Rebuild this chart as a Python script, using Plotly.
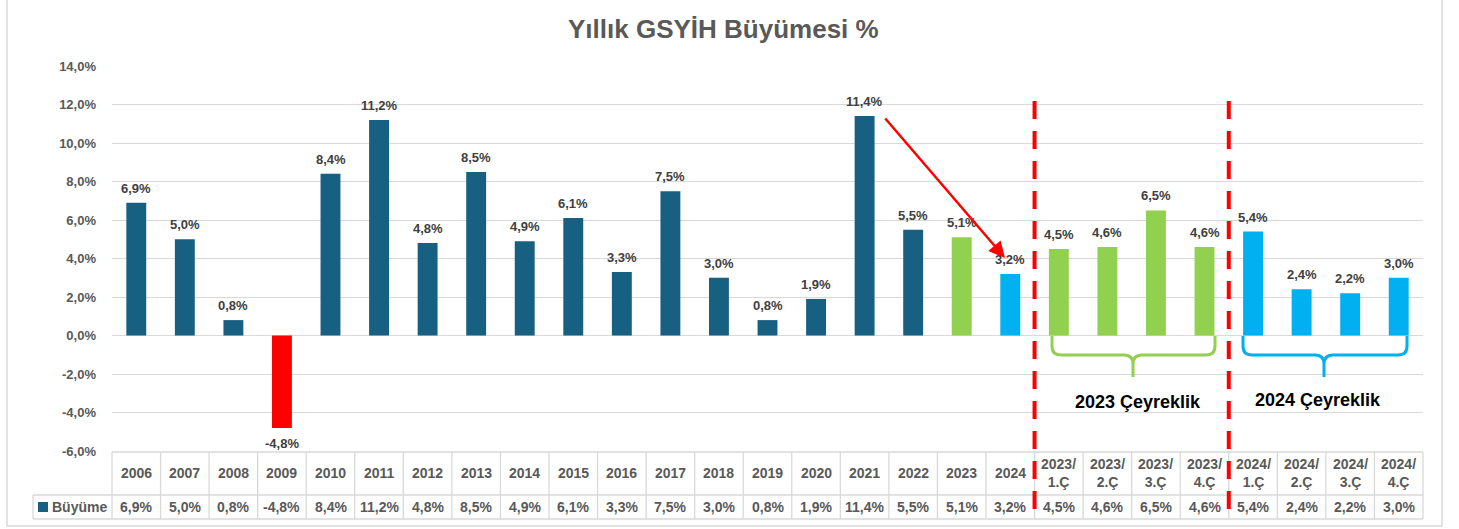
import plotly.graph_objects as go

categories = ["2006", "2007", "2008", "2009", "2010", "2011", "2012", "2013", "2014",
              "2015", "2016", "2017", "2018", "2019", "2020", "2021", "2022", "2023", "2024",
              "2023/<br>1.Ç", "2023/<br>2.Ç", "2023/<br>3.Ç", "2023/<br>4.Ç",
              "2024/<br>1.Ç", "2024/<br>2.Ç", "2024/<br>3.Ç", "2024/<br>4.Ç"]
growth = [6.9, 5.0, 0.8, -4.8, 8.4, 11.2, 4.8, 8.5, 4.9, 6.1, 3.3, 7.5, 3.0, 0.8, 1.9,
          11.4, 5.5, 5.1, 3.2, 4.5, 4.6, 6.5, 4.6, 5.4, 2.4, 2.2, 3.0]
bar_colors = (["#176082"] * 3 + ["#FF0000"] + ["#176082"] * 13 + ["#92D050", "#00B0F0"]
              + ["#92D050"] * 4 + ["#00B0F0"] * 4)
ytick_vals = [-6, -4, -2, 0, 2, 4, 6, 8, 10, 12, 14]
series_name = "Büyüme"
title_text = "Yıllık GSYİH Büyümesi %"

W_FIG, H_FIG = 1459, 529
L, R, T, B = 112, 1423, 66, 451
PW, PH = R - L, B - T


def px(x):
    return (x - L) / PW


def py(y):
    return (B - y) / PH


def fmt(v):
    return f"{v:.1f}%".replace(".", ",")


n = len(categories)
xs = list(range(n))
FONT = "Liberation Sans, Arial, sans-serif"
GRAY = "#595959"
LBL = "#404040"
GRID = "#d9d9d9"

fig = go.Figure()
fig.add_trace(go.Bar(
    x=xs, y=growth, marker=dict(color=bar_colors, line=dict(width=0)),
    width=0.41, showlegend=False, hoverinfo="y"))

annotations = []
# data labels
for i, v in enumerate(growth):
    annotations.append(dict(
        x=i, y=v, xref="x", yref="y", text=f"<b>{fmt(v)}</b>", showarrow=False,
        xanchor="center",
        yanchor="bottom" if v >= 0 else "top", yshift=5 if v >= 0 else -6,
        font=dict(family=FONT, size=13, color=LBL)))


def ptext(xp, yp, text, size, color, xanchor="center"):
    return dict(x=px(xp), y=py(yp), xref="paper", yref="paper", text=text,
                showarrow=False, xanchor=xanchor, yanchor="middle", align="center",
                font=dict(family=FONT, size=size, color=color))


shapes = []
# outer chart border
shapes.append(dict(type="rect", xref="paper", yref="paper", x0=px(7), x1=px(1442),
                   y0=py(526), y1=py(-2), line=dict(color=GRID, width=1.5), layer="below"))

# data table
cw = PW / n
y_top, y_mid, y_bot = 452, 495, 519
for i in range(n + 1):
    xpix = L + i * cw
    shapes.append(dict(type="line", xref="paper", yref="paper", x0=px(xpix), x1=px(xpix),
                       y0=py(y_top), y1=py(y_bot), line=dict(color=GRID, width=1.3)))
shapes.append(dict(type="line", xref="paper", yref="paper", x0=px(33), x1=px(33),
                   y0=py(y_mid), y1=py(y_bot), line=dict(color=GRID, width=1.3)))
shapes.append(dict(type="line", xref="paper", yref="paper", x0=px(L), x1=px(R),
                   y0=py(y_top), y1=py(y_top), line=dict(color=GRID, width=1.3)))
for yy in (y_mid, y_bot):
    shapes.append(dict(type="line", xref="paper", yref="paper", x0=px(33), x1=px(R),
                       y0=py(yy), y1=py(yy), line=dict(color=GRID, width=1.3)))
for i, c in enumerate(categories):
    xc = L + (i + 0.5) * cw
    annotations.append(ptext(xc, 473, f"<b>{c}</b>", 14, GRAY))
    annotations.append(ptext(xc, 507.5, f"<b>{fmt(growth[i])}</b>", 14, GRAY))
# legend key in table
shapes.append(dict(type="rect", xref="paper", yref="paper", x0=px(38), x1=px(48),
                   y0=py(512), y1=py(502), fillcolor="#176082", line=dict(width=0)))
annotations.append(ptext(50, 507.5, f"<b>{series_name}</b>", 14, GRAY, xanchor="left"))

# red dashed separators
for bx in (18.5, 22.5):
    xpix = L + (bx + 0.5) * cw
    shapes.append(dict(type="line", xref="paper", yref="paper", x0=px(xpix), x1=px(xpix),
                       y0=py(101), y1=py(519),
                       line=dict(color="#FF0000", width=4, dash="18px,12px")))


# braces
def to_x(xpix):
    return (xpix - L) / cw - 0.5


def to_y(ypix):
    return 14 - (ypix - T) / (PH / 20)


def brace(x0p, x1p, xcp, ytop, yh, ytip, color):
    r = 9
    pts = (f"M {to_x(x0p)},{to_y(ytop)} L {to_x(x0p)},{to_y(yh - r)} "
           f"Q {to_x(x0p)},{to_y(yh)} {to_x(x0p + r)},{to_y(yh)} "
           f"L {to_x(xcp - r)},{to_y(yh)} Q {to_x(xcp)},{to_y(yh)} {to_x(xcp)},{to_y(yh + r)} "
           f"L {to_x(xcp)},{to_y(ytip)} L {to_x(xcp)},{to_y(yh + r)} "
           f"Q {to_x(xcp)},{to_y(yh)} {to_x(xcp + r)},{to_y(yh)} "
           f"L {to_x(x1p - r)},{to_y(yh)} Q {to_x(x1p)},{to_y(yh)} {to_x(x1p)},{to_y(yh - r)} "
           f"L {to_x(x1p)},{to_y(ytop)}")
    return dict(type="path", xref="x", yref="y", path=pts,
                line=dict(color=color, width=3))


shapes.append(brace(1052, 1215, 1133, 336, 355, 377, "#92D050"))
shapes.append(brace(1243, 1407, 1324, 336, 355, 377, "#00B0F0"))

annotations.append(ptext(1138, 402, "<b>2023 Çeyreklik</b>", 18, "#000000"))
annotations.append(ptext(1318, 400, "<b>2024 Çeyreklik</b>", 18, "#000000"))

# red arrow 2021 -> 2024
annotations.append(dict(x=to_x(1005), y=to_y(258), ax=to_x(884), ay=to_y(117),
                        xref="x", yref="y", axref="x", ayref="y", text="",
                        showarrow=True, arrowhead=2, arrowsize=1.3, arrowwidth=2.5,
                        arrowcolor="#FF0000"))

# title
annotations.append(ptext(723, 29, f"<b>{title_text}</b>", 26, GRAY))

fig.update_layout(
    width=W_FIG, height=H_FIG,
    margin=dict(l=L, r=W_FIG - R, t=T, b=H_FIG - B, pad=0),
    paper_bgcolor="white", plot_bgcolor="white",
    xaxis=dict(range=[-0.5, n - 0.5], showticklabels=False, showgrid=False,
               zeroline=False, showline=False, ticks=""),
    yaxis=dict(range=[-6, 14], tickvals=ytick_vals, ticktext=[f"<b>{fmt(v)}</b>" for v in ytick_vals],
               showgrid=True, gridcolor=GRID, gridwidth=1.3, zeroline=False, showline=False,
               ticks="", ticklabelstandoff=15,
               tickfont=dict(family=FONT, size=13, color=GRAY)),
    shapes=shapes, annotations=annotations, showlegend=False, bargap=0.5,
)

fig.write_html("out.html", config={"displayModeBar": False},
               post_script="document.body.style.margin='0px';document.body.style.overflow='hidden';")
